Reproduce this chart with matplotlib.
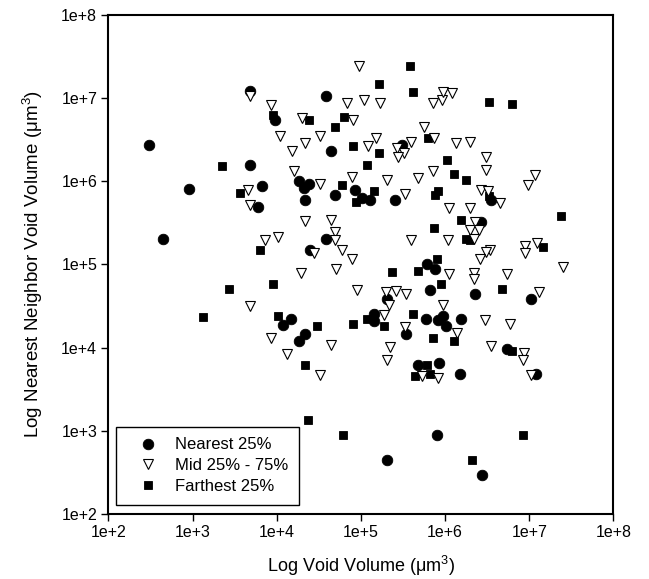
import numpy as np
import matplotlib
matplotlib.use("Agg")
import matplotlib.pyplot as plt

plt.rcParams['font.family'] = ['Liberation Sans', 'DejaVu Sans']
plt.rcParams['mathtext.fontset'] = 'custom'
plt.rcParams['mathtext.rm'] = 'Liberation Sans'
plt.rcParams['mathtext.it'] = 'Liberation Sans:italic'

# log10 values (x = void volume, y = nearest neighbour void volume)
log_void_nearest = [2.48, 3.68, 3.98, 4.59, 4.65, 3.68, 2.96, 4.26, 4.38, 4.33,
                    3.82, 3.78, 4.34, 4.69, 4.58, 2.65, 4.40, 4.17, 4.08, 4.34,
                    4.26, 5.49, 4.93, 5.01, 5.11, 5.40, 6.54, 6.43, 5.78, 5.88,
                    5.82, 6.36, 7.02, 5.31, 5.15, 5.16, 5.77, 5.92, 5.98, 6.01,
                    6.19, 5.53, 6.73, 5.68, 5.93, 6.18, 7.08, 5.90, 5.31, 6.44]
log_nn_nearest = [6.44, 7.08, 6.74, 7.02, 6.36, 6.19, 5.91, 6.00, 5.97, 5.92,
                  5.94, 5.69, 5.78, 5.83, 5.31, 5.31, 5.17, 4.34, 4.27, 4.17,
                  4.08, 6.43, 5.89, 5.80, 5.78, 5.77, 5.78, 5.51, 5.00, 4.94,
                  4.69, 4.64, 4.59, 4.58, 4.41, 4.32, 4.34, 4.33, 4.38, 4.26,
                  4.34, 4.16, 3.98, 3.79, 3.82, 3.68, 3.69, 2.95, 2.65, 2.47]

log_void_mid = [3.68, 3.93, 4.30, 4.83, 4.04, 4.34, 4.52, 4.18, 4.21, 4.52,
                4.90, 4.98, 4.91, 5.04, 5.23, 5.86, 5.96, 5.97, 6.08, 5.75,
                5.87, 5.18, 5.08, 5.43, 5.60, 5.51, 5.44, 6.13, 6.29, 6.49,
                6.48, 5.86, 5.31, 5.68, 7.07, 6.99, 3.66, 3.68, 4.34, 4.64,
                4.69, 4.69, 4.78, 4.90, 3.86, 4.02, 4.44, 4.29, 4.71, 3.68,
                3.93, 4.64, 4.12, 4.52, 5.52, 6.43, 6.51, 6.65, 6.05, 6.29,
                6.35, 6.30, 6.40, 5.59, 6.04, 6.34, 6.95, 6.95, 7.09, 6.53,
                6.48, 6.42, 7.40, 6.05, 6.34, 6.34, 6.73, 4.95, 5.30, 5.42,
                5.54, 7.11, 5.33, 5.27, 5.98, 5.52, 6.14, 6.47, 6.77, 5.34,
                6.55, 6.94, 6.92, 5.31, 5.72, 5.91, 7.02]
log_nn_mid = [7.02, 6.92, 6.76, 6.94, 6.54, 6.46, 6.54, 6.36, 6.12, 5.97,
              6.05, 7.38, 6.73, 6.98, 6.94, 6.94, 6.97, 7.07, 7.06, 6.65,
              6.52, 6.52, 6.42, 6.40, 6.47, 6.34, 6.29, 6.46, 6.47, 6.29,
              6.13, 6.12, 6.02, 6.04, 6.08, 5.96, 5.89, 5.72, 5.52, 5.53,
              5.39, 5.29, 5.17, 5.06, 5.30, 5.33, 5.14, 4.90, 4.94, 4.50,
              4.12, 4.03, 3.92, 3.67, 5.85, 5.90, 5.88, 5.74, 5.68, 5.68,
              5.51, 5.42, 5.42, 5.30, 5.30, 5.31, 5.22, 5.14, 5.26, 5.18,
              5.15, 5.06, 4.97, 4.89, 4.90, 4.82, 4.89, 4.69, 4.67, 4.68,
              4.64, 4.67, 4.51, 4.39, 4.51, 4.25, 4.18, 4.33, 4.29, 4.01,
              4.02, 3.94, 3.85, 3.85, 3.66, 3.64, 3.67]

log_void_farthest = [3.96, 4.38, 4.80, 4.69, 3.35, 4.91, 4.78, 5.58, 5.22, 5.62,
                     5.80, 5.21, 5.07, 6.02, 6.10, 6.25, 6.52, 6.80, 3.56, 3.80,
                     3.96, 3.43, 3.13, 4.02, 4.48, 4.94, 5.15, 5.88, 5.92, 6.52,
                     6.19, 5.87, 6.25, 6.30, 7.38, 7.16, 5.90, 5.68, 5.37, 5.95,
                     6.68, 5.07, 4.91, 5.28, 5.62, 5.86, 6.11, 6.79, 5.78, 5.64,
                     5.82, 4.34, 4.37, 4.79, 6.93, 6.32]
log_nn_farthest = [6.80, 6.74, 6.77, 6.65, 6.18, 6.42, 5.95, 7.38, 7.17, 7.07,
                   6.52, 6.34, 6.20, 6.26, 6.09, 6.02, 6.95, 6.93, 5.86, 5.18,
                   4.76, 4.70, 4.37, 4.38, 4.26, 5.75, 5.88, 5.84, 5.88, 5.82,
                   5.54, 5.44, 5.31, 5.30, 5.58, 5.21, 5.07, 4.92, 4.91, 4.76,
                   4.70, 4.34, 4.29, 4.26, 4.40, 4.12, 4.08, 3.96, 3.79, 3.66,
                   3.68, 3.79, 3.13, 2.95, 2.95, 2.65]

series_labels = ["Nearest 25%", "Mid 25% - 75%", "Farthest 25%"]
tick_exponents = [2, 3, 4, 5, 6, 7, 8]
tick_labels = ["1e+2", "1e+3", "1e+4", "1e+5", "1e+6", "1e+7", "1e+8"]

fig = plt.figure(figsize=(6.49, 5.79), dpi=100)
ax = fig.add_axes([0.1669, 0.1118, 0.7784, 0.8628])

ax.set_xscale('log')
ax.set_yscale('log')

h1, = ax.plot(10 ** np.array(log_void_nearest), 10 ** np.array(log_nn_nearest),
              linestyle='none', marker='o', markersize=7.6, markerfacecolor='black',
              markeredgecolor='black', markeredgewidth=0.6, label=series_labels[0], zorder=3)
h3, = ax.plot(10 ** np.array(log_void_farthest), 10 ** np.array(log_nn_farthest),
              linestyle='none', marker='s', markersize=6.4, markerfacecolor='black',
              markeredgecolor='black', markeredgewidth=0.6, label=series_labels[2], zorder=4)
h2, = ax.plot(10 ** np.array(log_void_mid), 10 ** np.array(log_nn_mid),
              linestyle='none', marker='v', markersize=7.6, markerfacecolor='white',
              markeredgecolor='black', markeredgewidth=0.8, label=series_labels[1], zorder=5)

ticks = [10.0 ** e for e in tick_exponents]
ax.set_xlim(ticks[0], ticks[-1])
ax.set_ylim(ticks[0], ticks[-1])
ax.set_xticks(ticks)
ax.set_xticklabels(tick_labels)
ax.set_yticks(ticks)
ax.set_yticklabels(tick_labels)
ax.xaxis.set_minor_locator(matplotlib.ticker.NullLocator())
ax.yaxis.set_minor_locator(matplotlib.ticker.NullLocator())
ax.tick_params(axis='both', which='major', direction='out', length=5, width=1,
               labelsize=11.5, pad=3, top=False, right=False, colors='black')

for sp in ax.spines.values():
    sp.set_linewidth(1.5)
    sp.set_color('black')

ax.set_xlabel(r'Log Void Volume ($\mathrm{\mu}$m$^3$)', fontsize=13, labelpad=10)
ax.set_ylabel(r'Log Nearest Neighbor Void Volume ($\mathrm{\mu}$m$^3$)', fontsize=13.5, labelpad=12)

leg = ax.legend(handles=[h1, h2, h3], labels=series_labels, loc='lower left',
                bbox_to_anchor=(0.0152, 0.0186), borderaxespad=0, fontsize=12,
                frameon=True, fancybox=False, edgecolor='black', framealpha=1,
                borderpad=0.65, handlelength=2.5, handletextpad=0.4, labelspacing=0.35)
leg.get_frame().set_linewidth(1.0)

fig.savefig("out.png", dpi=100)
